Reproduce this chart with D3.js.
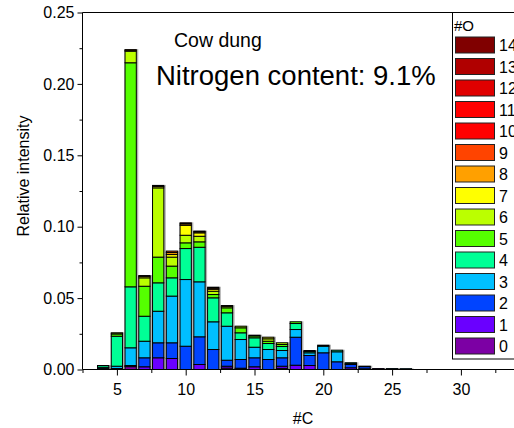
<!DOCTYPE html>
<html>
<head>
<meta charset="utf-8">
<script src="https://cdn.jsdelivr.net/npm/d3@7"></script>
<style>
  html, body { margin: 0; padding: 0; background: #fff; }
  svg { display: block; font-family: Arial, "Liberation Sans", sans-serif; }
</style>
</head>
<body>
<svg id="chart" width="514" height="428"></svg>
<script>
// Carbon numbers on the x axis (one stacked bar each)
const carbonNumbers = [4, 5, 6, 7, 8, 9, 10, 11, 12, 13, 14, 15, 16, 17, 18, 19, 20, 21, 22, 23, 24, 25, 26];

// Relative intensity contributed by each oxygen count, per carbon number
const o0 = [0, 0, 0.002, 0, 0, 0, 0, 0, 0, 0.001, 0.0004, 0, 0, 0.0008, 0, 0, 0, 0, 0, 0, 0.0004, 0, 0];
const o1 = [0, 0, 0.0003, 0.0019, 0.0082, 0.0077, 0, 0.0035, 0, 0.0013, 0.0005, 0.0019, 0, 0.0015, 0.003, 0.0028, 0, 0, 0.0012, 0.0005, 0.0002, 0, 0];
const o2 = [0.0008, 0.0007, 0.0005, 0.0063, 0.0105, 0.011, 0.0163, 0.0194, 0.014, 0.0042, 0.0061, 0.0063, 0.007, 0.0059, 0.0196, 0.007, 0.0117, 0.0054, 0.0023, 0.0015, 0, 0.0004, 0.0003];
const o3 = [0.0008, 0.0016, 0.0124, 0.0116, 0.0221, 0.0327, 0.0467, 0.0385, 0.0194, 0.0238, 0.014, 0.0074, 0.007, 0.0051, 0.0054, 0.0019, 0.0046, 0.007, 0.0008, 0.0003, 0, 0.0002, 0.0002];
const o4 = [0.0012, 0.021, 0.0427, 0.0175, 0.0199, 0.0128, 0.0217, 0.0242, 0.0168, 0.0094, 0.0047, 0.0066, 0.0042, 0.0028, 0.0042, 0.0009, 0.0007, 0.0011, 0.0004, 0, 0, 0, 0];
const o5 = [0, 0.0016, 0.1569, 0.021, 0.018, 0.0082, 0.004, 0.0038, 0.0023, 0.0035, 0.0035, 0.0013, 0.0016, 0.0014, 0.0012, 0.0007, 0, 0, 0, 0, 0, 0, 0];
const o6 = [0, 0.0008, 0.0081, 0.0059, 0.0485, 0.0063, 0.0053, 0.0039, 0.0023, 0.001, 0.0011, 0.0005, 0.0017, 0.0012, 0, 0, 0, 0, 0, 0, 0, 0, 0];
const o7 = [0, 0, 0.0006, 0.001, 0.001, 0.0018, 0.007, 0.0024, 0.0014, 0.0006, 0, 0, 0.0011, 0, 0, 0, 0, 0, 0, 0, 0, 0, 0];
const o8 = [0, 0, 0.0005, 0.0006, 0.0007, 0.0014, 0.001, 0.0008, 0.0008, 0, 0, 0, 0, 0, 0, 0, 0, 0, 0, 0, 0, 0, 0];
const o9 = [0, 0, 0, 0, 0, 0.001, 0.0007, 0.0004, 0.0006, 0, 0, 0, 0, 0, 0, 0, 0, 0, 0, 0, 0, 0, 0];
const oxygenSeries = [o0, o1, o2, o3, o4, o5, o6, o7, o8, o9];

// Legend entries (#O = 0..14) and their colours
const oxygenLabels = [0, 1, 2, 3, 4, 5, 6, 7, 8, 9, 10, 11, 12, 13, 14];
const oxygenColors = ["#7c00a4", "#6a00ff", "#0044ff", "#00bfff", "#00ff96", "#55ff00", "#bbff00", "#ffff00",
                      "#ffa000", "#ff4400", "#ff0000", "#ff0000", "#e00000", "#b00000", "#800000"];

const yTicks = [0, 0.05, 0.10, 0.15, 0.20, 0.25];
const xTicks = [5, 10, 15, 20, 25, 30];

const svg = d3.select("#chart");

const x = d3.scaleLinear().domain([2.5, 35]).range([82.5, 82.5 + 32.5 * 13.76]);
const y = d3.scaleLinear().domain([0, 0.25]).range([369.5, 12.5]);

// Build stacked rows
const rows = carbonNumbers.map((c, i) => {
  const row = { c };
  oxygenSeries.forEach((s, k) => { row["o" + k] = s[i]; });
  return row;
});
const keys = oxygenSeries.map((s, k) => "o" + k);
const stacked = d3.stack().keys(keys)(rows);

const barW = x(2.5 + 0.82) - x(2.5);

// Soft grey shadow behind every bar
const totals = rows.map(r => keys.reduce((a, k) => a + r[k], 0));
svg.append("g").selectAll("rect").data(rows).join("rect")
  .attr("x", (d) => x(d.c) - barW / 2 - 0.5)
  .attr("y", (d, i) => y(totals[i]) - 0.5)
  .attr("width", barW + 2.5)
  .attr("height", (d, i) => y(0) - y(totals[i]) + 1)
  .attr("fill", "#9a9a9a")
  .attr("opacity", 0.75);

// Bars
const layers = svg.append("g").selectAll("g").data(stacked).join("g")
  .attr("fill", (d, k) => oxygenColors[k]);
layers.selectAll("rect").data(d => d.filter(seg => seg[1] - seg[0] > 0)).join("rect")
  .attr("x", d => x(d.data.c) - barW / 2)
  .attr("y", d => y(d[1]))
  .attr("width", barW)
  .attr("height", d => y(d[0]) - y(d[1]))
  .attr("stroke", "#000")
  .attr("stroke-width", 1);

// Axes
const yAxis = d3.axisLeft(y).tickValues(yTicks).tickSize(5).tickPadding(3).tickFormat(d3.format(".2f"));
const yMinor = d3.axisLeft(y).tickValues(d3.range(0.025, 0.25, 0.05)).tickSize(3).tickFormat("");
const xAxis = d3.axisBottom(x).tickValues(xTicks).tickSize(6).tickPadding(8).tickFormat(d3.format("d"));
const xMinor = d3.axisBottom(x).tickValues([2.5, 7.5, 12.5, 17.5, 22.5, 27.5, 32.5]).tickSize(3.5).tickFormat("");

function styleAxis(g) {
  g.select(".domain").remove();
  g.selectAll("line").attr("stroke", "#000").attr("stroke-width", 1);
  g.selectAll("text").attr("fill", "#000").style("font-size", "16px")
    .style("font-family", "Arial, 'Liberation Sans', sans-serif");
}

svg.append("g").attr("transform", "translate(82.5,0)").call(yAxis).call(styleAxis);
svg.append("g").attr("transform", "translate(82.5,0)").call(yMinor).call(styleAxis);
svg.append("g").attr("transform", "translate(0,369.5)").call(xAxis).call(styleAxis);
svg.append("g").attr("transform", "translate(0,369.5)").call(xMinor).call(styleAxis);

// Frame lines
svg.append("line").attr("x1", 82.5).attr("x2", 82.5).attr("y1", 12.5).attr("y2", 369.5).attr("stroke", "#000");
svg.append("line").attr("x1", 82.5).attr("x2", 514).attr("y1", 369.5).attr("y2", 369.5).attr("stroke", "#000");
svg.append("line").attr("x1", 82.5).attr("x2", 514).attr("y1", 12.5).attr("y2", 12.5).attr("stroke", "#000");

// Axis titles
svg.append("text").attr("x", 303).attr("y", 424).attr("text-anchor", "middle")
  .style("font-size", "16px").text("#C");
svg.append("text").attr("transform", "translate(29,176) rotate(-90)").attr("text-anchor", "middle")
  .style("font-size", "16px").text("Relative intensity");

// Annotations
svg.append("text").attr("x", 174).attr("y", 47).style("font-size", "19.5px").text("Cow dung");
svg.append("text").attr("x", 156).attr("y", 85).style("font-size", "27.5px").text("Nitrogen content: 9.1%");

// Legend
const legend = svg.append("g");
legend.append("rect").attr("x", 452.5).attr("y", 12.5).attr("width", 80).attr("height", 346.5)
  .attr("fill", "#fff").attr("stroke", "#000");
legend.append("text").attr("x", 454).attr("y", 31).style("font-size", "15px").text("#O");
const ly = d3.scaleLinear().domain([14, 0]).range([45, 346]);
const items = legend.selectAll("g.item").data(oxygenLabels).join("g").attr("class", "item");
items.append("rect")
  .attr("x", 455.5).attr("y", d => ly(d) - 8).attr("width", 39).attr("height", 16)
  .attr("fill", d => oxygenColors[d]).attr("stroke", "#222").attr("stroke-width", 1);
items.append("text")
  .attr("x", 499).attr("y", d => ly(d) + 6)
  .style("font-size", "16px").text(d => d);
</script>
</body>
</html>
